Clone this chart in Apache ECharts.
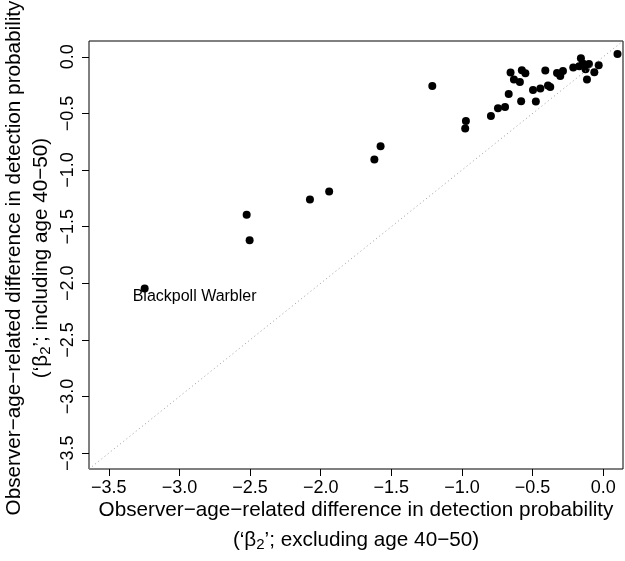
<!DOCTYPE html>
<html><head><meta charset="utf-8">
<script src="https://cdn.jsdelivr.net/npm/echarts@6/dist/echarts.min.js"></script>
<style>html,body{margin:0;padding:0;background:#fff}#c{width:625px;height:561px}</style>
</head><body><div id="c"></div>
<script>
// Species estimates: x = beta2 excluding age 40-50, y = beta2 including age 40-50
const speciesX = [-3.246, -2.524, -2.503, -2.076, -1.94, -1.62, -1.576, -1.21,
  -0.972, -0.977, -0.795, -0.745, -0.695, -0.669, -0.656, -0.632, -0.590, -0.581,
  -0.576, -0.551, -0.497, -0.477, -0.445, -0.410, -0.391, -0.375, -0.327, -0.304,
  -0.285, -0.212, -0.170, -0.158, -0.144, -0.125, -0.101, -0.115, -0.063, -0.032, 0.101];
const speciesY = [-2.045, -1.395, -1.62, -1.26, -1.19, -0.906, -0.79, -0.257,
  -0.566, -0.633, -0.522, -0.454, -0.442, -0.327, -0.139, -0.200, -0.221, -0.392,
  -0.118, -0.145, -0.292, -0.395, -0.280, -0.121, -0.253, -0.266, -0.142, -0.169,
  -0.124, -0.094, -0.083, -0.012, -0.059, -0.109, -0.063, -0.200, -0.136, -0.074, 0.026];
const labelledIndex = 0;
const labelledName = 'Blackpoll Warbler';
const tickValues = [-3.5, -3.0, -2.5, -2.0, -1.5, -1.0, -0.5, 0.0];
const axisMin = -3.64, axisMax = 0.14;
const refLine = [axisMin, axisMax]; // 1:1 line y = x

const FONT = 'Liberation Sans, Arial, Helvetica, sans-serif';
const fmt = v => (Math.abs(v) < 1e-9 ? '0.0' : v.toFixed(1).replace('-', '\u2212'));

const pts = speciesX.map((x, i) => {
  const p = {value: [x, speciesY[i]]};
  if (i === labelledIndex) {
    p.label = {show: true, formatter: labelledName, position: [-8, 4], align: 'left',
      verticalAlign: 'top', color: '#000', fontSize: 16, fontFamily: FONT};
  }
  return p;
});

const axisCommon = {
  type: 'value', min: axisMin, max: axisMax,
  axisLine: {show: false, onZero: false},
  splitLine: {show: false},
  axisTick: {show: true, inside: false, length: 7, customValues: tickValues,
    lineStyle: {color: '#000', width: 1}},
  axisLabel: {show: true, customValues: tickValues, formatter: fmt, color: '#000',
    fontSize: 18, fontFamily: FONT}
};

const chart = echarts.init(document.getElementById('c'), null, {renderer: 'canvas'});
chart.setOption({
  animation: false,
  backgroundColor: '#fff',
  grid: {left: 89, right: 2, top: 41, bottom: 92, show: true, borderColor: '#000',
    borderWidth: 1, backgroundColor: 'transparent'},
  xAxis: Object.assign({}, axisCommon, {axisLabel: Object.assign({}, axisCommon.axisLabel, {margin: 10})}),
  yAxis: Object.assign({}, axisCommon, {axisLabel: Object.assign({}, axisCommon.axisLabel, {rotate: 90, margin: 12})}),
  series: [
    {type: 'line', data: refLine.map(v => [v, v]), symbol: 'none', silent: true,
      lineStyle: {color: '#999', width: 1, type: [1, 3]}},
    {type: 'scatter', data: pts, symbol: 'circle', symbolSize: 8,
      itemStyle: {color: '#000', opacity: 1}, silent: true}
  ],
  graphic: [
    {type: 'text', x: 356, y: 510, style: {text: 'Observer\u2212age\u2212related difference in detection probability',
      font: '20.7px ' + FONT, fill: '#000', align: 'center', verticalAlign: 'middle'}},
    {type: 'text', x: 356, y: 540, style: {
      text: '{a|(\u2018\u03b2}{s|2}{a|\u2019; excluding age 40\u221250)}',
      align: 'center', verticalAlign: 'middle',
      rich: {a: {fontSize: 20.7, fontFamily: FONT, color: '#000'},
             s: {fontSize: 15, fontFamily: FONT, color: '#000', padding: [10, 0, 0, 0]}}}},
    {type: 'text', x: 14, y: 258, rotation: Math.PI / 2, style: {text: 'Observer\u2212age\u2212related difference in detection probability',
      font: '20.7px ' + FONT, fill: '#000', align: 'center', verticalAlign: 'middle'}},
    {type: 'text', x: 41, y: 258, rotation: Math.PI / 2, style: {
      text: '{a|(\u2018\u03b2}{s|2}{a|\u2019; including age 40\u221250)}',
      align: 'center', verticalAlign: 'middle',
      rich: {a: {fontSize: 20.7, fontFamily: FONT, color: '#000'},
             s: {fontSize: 15, fontFamily: FONT, color: '#000', padding: [10, 0, 0, 0]}}}}
  ]
});
</script></body></html>
